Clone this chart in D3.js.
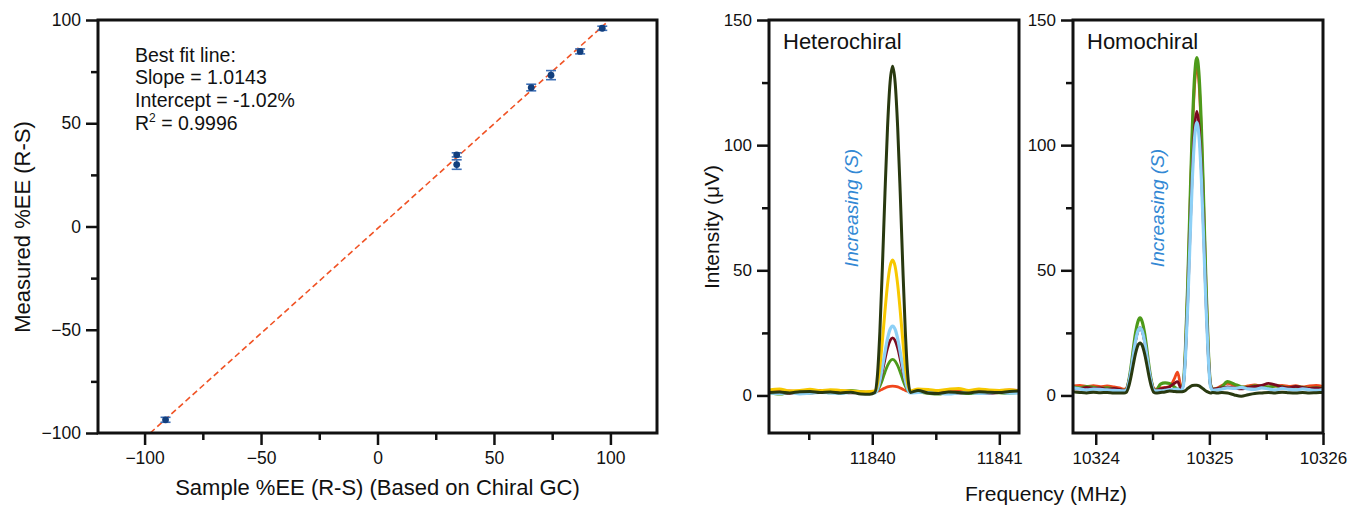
<!DOCTYPE html>
<html><head><meta charset="utf-8">
<script src="https://cdn.jsdelivr.net/npm/d3@7"></script>
<style>
html,body{margin:0;padding:0;background:#fff;}
text{font-family:"Liberation Sans",Arial,Helvetica,sans-serif;fill:#111;}
</style></head>
<body><svg id="c" width="1348" height="506"></svg>
<script>
// ---------- Left panel: calibration ----------
const sampleEE   = [-91, 34, 34, 66, 74.5, 87, 96.5];
const measuredEE = [-93.6, 34.7, 30.0, 67.3, 73.3, 84.8, 96.0];
const measuredErr = [1.2, 1.0, 2.3, 1.6, 2.2, 1.2, 1.0];
const fitSlope = 1.0143;
const fitIntercept = -1.02;
const fitXRange = [-97.58, 98];
const eeTicks = [-100, -50, 0, 50, 100];
const eeMinorTicks = [-75, -25, 25, 75];
const fitTextLines = ["Best fit line:", "Slope = 1.0143", "Intercept = -1.02%"];
const r2Text = ["R", "2", " = 0.9996"];

// ---------- Right panels: spectra ----------
const specYTicks = [0, 50, 100, 150];
const specYMinor = [25, 75, 125];

const hetFreq = [11839.19, 11839.27, 11839.35, 11839.43, 11839.51, 11839.59, 11839.67, 11839.75, 11839.83, 11839.91, 11839.98,
  11840.02, 11840.04, 11840.06, 11840.08, 11840.10, 11840.12, 11840.14, 11840.16, 11840.18, 11840.20, 11840.22, 11840.24, 11840.26, 11840.28, 11840.30,
  11840.36, 11840.44, 11840.52, 11840.60, 11840.68, 11840.76, 11840.84, 11840.92, 11841.00, 11841.08, 11841.16];
const hetRed    = [2.0,1.6,1.8,1.5,1.7,2.0,1.5,1.8,1.6,1.4,1.3, 1.5,1.7,2.0,2.5,3.0,3.4,3.6,3.7,3.6,3.4,3.0,2.5,2.0,1.7,1.5, 1.8,2.0,1.6,1.5,1.9,1.7,2.1,1.6,1.8,2.2,2.0];
const hetGreen  = [1.0,0.5,1.2,1.4,0.9,1.5,1.0,1.3,2.0,1.5,1.0, 1.2,1.9,3.7,6.3,9.3,11.9,13.7,14.4,13.7,11.9,9.3,6.3,3.7,1.9,1.2, 1.3,0.8,0.5,1.2,1.0,0.7,1.1,1.4,1.0,0.8,1.2];
const hetDarkRed= [1.5,1.2,0.8,1.4,1.0,1.3,1.1,1.5,1.0,1.2,1.0, 1.2,2.3,5.3,9.7,14.5,18.9,21.9,23.0,21.9,18.9,14.5,9.7,5.3,2.3,1.2, 1.8,1.2,1.0,1.4,0.9,1.3,1.0,0.8,1.2,1.6,1.4];
const hetBlue   = [1.0,0.8,1.2,0.6,0.9,1.2,1.0,0.8,1.2,1.0,0.9, 1.0,2.3,6.0,11.4,17.3,22.7,26.4,27.7,26.4,22.7,17.3,11.4,6.0,2.3,1.0, 1.2,1.5,1.0,0.6,1.0,1.2,0.8,1.0,1.3,0.9,1.1];
const hetYellow = [2.2,2.6,1.8,2.0,2.5,1.9,2.3,2.0,1.8,1.5,1.6, 1.8,4.4,11.6,22.1,33.8,44.3,51.5,54.1,51.5,44.3,33.8,22.1,11.6,4.4,1.8, 2.6,2.4,2.0,2.5,2.8,2.0,2.6,2.2,2.0,2.3,1.8];
const hetDark   = [1.2,1.4,1.0,1.5,1.6,1.2,1.4,1.0,1.3,0.6,0.5, 1.2,7.7,25.7,51.8,80.9,107.0,125.0,131.5,125.0,107.0,80.9,51.8,25.7,7.7,1.2, 2.0,1.0,0.8,1.4,1.2,1.0,1.5,1.3,1.2,1.6,1.8];
const hetXTicks = [11840, 11841];
const hetXMinor = [11839.5, 11840.5];

const homFreq = [10323.80, 10323.86, 10323.92, 10323.98, 10324.04, 10324.10, 10324.16, 10324.21,
  10324.25, 10324.27, 10324.29, 10324.31, 10324.33, 10324.35, 10324.37, 10324.39, 10324.41, 10324.43, 10324.45, 10324.47, 10324.49, 10324.51, 10324.53,
  10324.57, 10324.61, 10324.65, 10324.69, 10324.72,
  10324.75, 10324.77, 10324.79, 10324.81, 10324.83, 10324.85, 10324.87, 10324.89, 10324.91, 10324.93, 10324.95, 10324.97, 10324.99, 10325.01, 10325.03,
  10325.07, 10325.11, 10325.16, 10325.22, 10325.28, 10325.34, 10325.40, 10325.46, 10325.52, 10325.58, 10325.64, 10325.70, 10325.76, 10325.82, 10325.88, 10325.94, 10326.00];
const homRed    = [3.8,4.0,3.6,3.9,3.5,3.8,3.4,3.0, 2.5,2.9,5.6,10.4,16.3,21.8,25.6,27,25.6,21.8,16.3,10.4,5.6,2.9,2.5, 3.0,3.2,3.5,6.5,9.3, 4.0,4.4,18.8,44.0,75.0,104.0,124.1,131.5,124.1,104.0,75.0,44.0,18.8,4.4,2.5, 3.0,4.0,4.8,4.0,3.2,3.8,4.2,3.5,3.2,3.8,4.0,3.6,3.9,3.4,3.8,4.0,3.6];
const homGreen  = [3.5,3.0,3.5,3.2,2.8,3.0,2.6,2.2, 2.0,2.4,5.7,11.3,18.3,24.8,29.3,31,29.3,24.8,18.3,11.3,5.7,2.4,2.0, 4.5,5.0,4.8,3.5,2.5, 2.5,4.4,19.3,45.1,77,106.8,127.4,135,127.4,106.8,77,45.1,19.3,4.4,2.5, 2.5,3.5,5.5,4.5,3.5,3.2,3.8,3.6,3.4,3.8,3.5,3.0,3.4,3.2,2.8,3.0,2.8];
const homDarkRed= [3.0,2.6,3.2,2.8,3.0,2.5,2.8,2.4, 2.0,2.37,5.2,10.0,16.05,21.7,25.6,27,25.6,21.7,16.05,10.0,5.2,2.37,2.0, 2.6,3.0,3.5,4.8,5.5, 3.0,4.1,16.5,38.2,64.9,89.9,107.1,113.5,107.1,89.9,64.9,38.2,16.5,4.1,2.5, 2.8,3.0,3.4,3.0,2.6,3.2,3.6,4.0,4.8,4.2,3.4,3.0,3.6,3.2,2.8,3.0,2.6];
const homBlue   = [3.0,2.6,2.2,2.5,2.4,2.2,2.0,1.9, 1.8,2.17,5.0,9.9,16.0,21.6,25.6,27,25.6,21.6,16.0,9.9,5.0,2.17,1.8, 1.8,2.0,2.3,2.4,2.5, 2.0,3.56,15.5,36.4,62.1,86.2,102.9,109,102.9,86.2,62.1,36.4,15.5,3.56,2.0, 2.2,2.6,3.0,2.8,3.2,2.6,2.4,3.0,2.6,2.2,2.8,2.4,2.2,2.6,2.3,2.0,2.4];
const homDark   = [1.5,1.2,1.0,1.3,1.1,1.2,1.0,1.0, 1.0,1.3,3.5,7.4,12.2,16.7,19.9,21,19.9,16.7,12.2,7.4,3.5,1.3,1.0, 1.2,1.4,1.8,1.6,1.5, 1.5,1.6,2.0,2.8,3.5,4.0,4.1,4.1,3.8,3.2,2.5,1.8,1.3,1.0,1.2, 1.0,1.2,1.0,0.2,-0.3,0.3,0.8,1.0,1.2,1.0,1.3,1.1,1.0,1.2,1.0,1.1,1.2];
const homXTicks = [10324, 10325, 10326];
const homXMinor = [10324.5, 10325.5];

const colRed = "#f0461c", colGreen = "#4d9a1a", colDarkRed = "#7a0a20",
      colBlue = "#8dd0f6", colYellow = "#f7c800", colDark = "#293910";

const svg = d3.select("#c");
const FONT = '"Liberation Sans",Arial,Helvetica,sans-serif';

function drawAxes(g, x, y, xMaj, xMin, yMaj, yMin, xFmt, fs) {
  const [x0, x1] = x.range(), [y1, y0] = y.range();
  const ax = g.append("g").attr("transform", `translate(0,${y1})`)
    .call(d3.axisBottom(x).tickValues(xMaj).tickSize(12).tickPadding(7).tickFormat(xFmt));
  const axm = g.append("g").attr("transform", `translate(0,${y1})`)
    .call(d3.axisBottom(x).tickValues(xMin).tickSize(7).tickFormat(""));
  const ay = g.append("g").attr("transform", `translate(${x0},0)`)
    .call(d3.axisLeft(y).tickValues(yMaj).tickSize(12).tickPadding(5));
  const aym = g.append("g").attr("transform", `translate(${x0},0)`)
    .call(d3.axisLeft(y).tickValues(yMin).tickSize(7).tickFormat(""));
  [ax, axm, ay, aym].forEach(a => {
    a.select(".domain").remove();
    a.selectAll(".tick line").attr("stroke", "#111").attr("stroke-width", 2.5);
    a.selectAll(".tick text").attr("font-family", FONT).attr("font-size", fs).attr("fill", "#111");
  });
  g.append("rect").attr("x", x0).attr("y", y0).attr("width", x1 - x0).attr("height", y1 - y0)
    .attr("fill", "none").attr("stroke", "#111").attr("stroke-width", 3);
}

// ---------- Left panel ----------
{
  const x = d3.scaleLinear().domain([-120, 120]).range([98, 657]);
  const y = d3.scaleLinear().domain([-100, 100]).range([433, 20]);
  const g = svg.append("g");
  g.append("line")
    .attr("x1", x(fitXRange[0])).attr("y1", y(fitSlope * fitXRange[0] + fitIntercept))
    .attr("x2", x(fitXRange[1])).attr("y2", y(fitSlope * fitXRange[1] + fitIntercept))
    .attr("stroke", "#f05224").attr("stroke-width", 1.6).attr("stroke-dasharray", "6,3.5");
  const pts = sampleEE.map((v, i) => ({x: v, y: measuredEE[i], e: measuredErr[i]}));
  const eb = g.append("g").attr("stroke", "#3d6fb6").attr("stroke-width", 1.6);
  pts.forEach(p => {
    eb.append("line").attr("x1", x(p.x)).attr("x2", x(p.x)).attr("y1", y(p.y - p.e)).attr("y2", y(p.y + p.e));
    eb.append("line").attr("x1", x(p.x) - 5).attr("x2", x(p.x) + 5).attr("y1", y(p.y - p.e)).attr("y2", y(p.y - p.e));
    eb.append("line").attr("x1", x(p.x) - 5).attr("x2", x(p.x) + 5).attr("y1", y(p.y + p.e)).attr("y2", y(p.y + p.e));
  });
  g.append("g").selectAll("circle").data(pts).join("circle")
    .attr("cx", d => x(d.x)).attr("cy", d => y(d.y)).attr("r", 3.4).attr("fill", "#123f7e");
  drawAxes(g, x, y, eeTicks, eeMinorTicks, eeTicks, eeMinorTicks, d3.format("d"), 17.5);

  fitTextLines.forEach((t, i) => g.append("text").attr("x", 135).attr("y", 61.5 + i * 22.8)
    .attr("font-size", 19.5).text(t));
  const r2 = g.append("text").attr("x", 135).attr("y", 61.5 + 3 * 22.8).attr("font-size", 19.5);
  r2.append("tspan").text(r2Text[0]);
  r2.append("tspan").attr("font-size", 12).attr("dy", -8).text(r2Text[1]);
  r2.append("tspan").attr("dy", 8).text(r2Text[2]);

  g.append("text").attr("x", x(0)).attr("y", 495).attr("text-anchor", "middle")
    .attr("font-size", 22).text("Sample %EE (R-S) (Based on Chiral GC)");
  g.append("text").attr("transform", "translate(30,227) rotate(-90)").attr("text-anchor", "middle")
    .attr("font-size", 22).text("Measured %EE (R-S)");
}

// ---------- Right panels ----------
function spectrumPanel(x0, x1, dom, freq, series, xMaj, xMin, title, incX, id) {
  const x = d3.scaleLinear().domain(dom).range([x0, x1]);
  const y = d3.scaleLinear().domain([-15, 150]).range([433, 20]);
  const g = svg.append("g");
  g.append("clipPath").attr("id", id).append("rect")
    .attr("x", x0).attr("y", 20).attr("width", x1 - x0).attr("height", 413);
  const line = d3.line().x(d => x(d[0])).y(d => y(d[1])).curve(d3.curveMonotoneX);
  const lg = g.append("g").attr("clip-path", `url(#${id})`);
  series.forEach(s => {
    lg.append("path").datum(freq.map((f, i) => [f, s.v[i]]))
      .attr("d", line).attr("fill", "none").attr("stroke", s.c)
      .attr("stroke-width", s.w || 2.8).attr("stroke-linejoin", "round");
  });
  drawAxes(g, x, y, xMaj, xMin, specYTicks, specYMinor, d3.format("d"), 17);
  g.append("text").attr("x", x0 + 14).attr("y", 48.5).attr("font-size", 22).text(title);
  g.append("text").attr("transform", `translate(${incX},208) rotate(-90)`).attr("text-anchor", "middle")
    .attr("font-size", 19).attr("font-style", "italic").style("fill", "#3288d4").text("Increasing (S)");
}

spectrumPanel(769, 1019, [11839.187, 11841.155], hetFreq, [
  {v: hetRed, c: colRed}, {v: hetGreen, c: colGreen}, {v: hetDarkRed, c: colDarkRed},
  {v: hetBlue, c: colBlue, w: 3.2}, {v: hetYellow, c: colYellow, w: 3}, {v: hetDark, c: colDark, w: 3}
], hetXTicks, hetXMinor, "Heterochiral", 858, "clipHet");

spectrumPanel(1073, 1323, [10323.8, 10326], homFreq, [
  {v: homRed, c: colRed}, {v: homGreen, c: colGreen, w: 3.2}, {v: homDarkRed, c: colDarkRed},
  {v: homBlue, c: colBlue, w: 3.2}, {v: homDark, c: colDark, w: 3}
], homXTicks, homXMinor, "Homochiral", 1164, "clipHom");

svg.append("text").attr("x", 1046).attr("y", 501).attr("text-anchor", "middle")
  .attr("font-size", 21).text("Frequency (MHz)");
svg.append("text").attr("transform", "translate(719,227) rotate(-90)").attr("text-anchor", "middle")
  .attr("font-size", 21).text("Intensity (μV)");
</script></body></html>
